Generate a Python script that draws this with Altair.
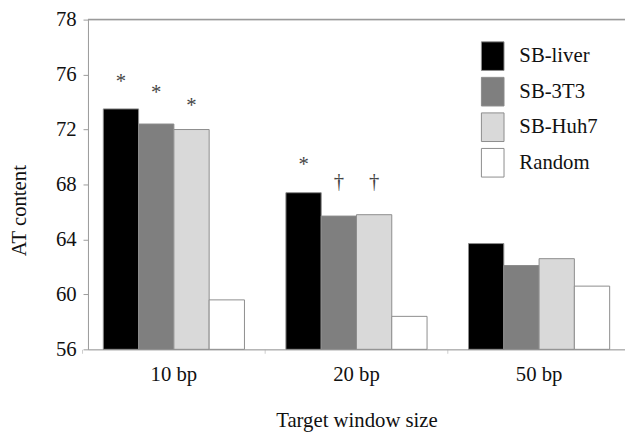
import altair as alt
import pandas as pd

groups = ["10 bp", "20 bp", "50 bp"]
series = ["SB-liver", "SB-3T3", "SB-Huh7", "Random"]
liver = [73.5, 67.4, 63.7]
t3t3 = [72.4, 65.7, 62.1]
huh7 = [72.0, 65.8, 62.6]
random_ = [59.6, 58.4, 60.6]
colors = ["#000000", "#7f7f7f", "#d9d9d9", "#ffffff"]

mark_groups = ["10 bp", "10 bp", "10 bp", "20 bp", "20 bp", "20 bp"]
mark_series = ["SB-liver", "SB-3T3", "SB-Huh7", "SB-liver", "SB-3T3", "SB-Huh7"]
mark_symbols = ["*", "*", "*", "*", "†", "†"]
mark_levels = [75.75, 74.95, 74.0, 69.7, 68.2, 68.2]

rows = []
for s, vals in zip(series, [liver, t3t3, huh7, random_]):
    for g, v in zip(groups, vals):
        rows.append({"group": g, "series": s, "value": v})
df = pd.DataFrame(rows)

mdf = pd.DataFrame({"group": mark_groups, "series": mark_series,
                    "sym": mark_symbols, "level": mark_levels})

FONT = "Liberation Serif, Times New Roman, DejaVu Serif, serif"

x_enc = alt.X("group:N", sort=groups, title="Target window size",
              scale=alt.Scale(paddingInner=0.227, paddingOuter=0.084),
              axis=alt.Axis(labelAngle=0, labelFontSize=21, labelFont=FONT,
                            labelColor="#111111", labelBaseline="alphabetic",
                            labelPadding=28, tickSize=4, tickColor="#cccccc",
                            bandPosition=-0.147,
                            domainColor="#9a9a9a", titleFontSize=21,
                            titleFont=FONT, titleFontWeight="normal",
                            titleColor="#111111", titleBaseline="alphabetic",
                            titleY=78))
xoff = alt.XOffset("series:N", sort=series, scale=alt.Scale(domain=series))
y_scale = alt.Scale(domain=[56, 80], nice=False, zero=False)

bars = alt.Chart(df).mark_bar(stroke="#8c8c8c", strokeWidth=1).encode(
    x=x_enc,
    xOffset=xoff,
    y=alt.Y("value:Q", scale=y_scale, title="AT content",
            axis=alt.Axis(values=[56, 60, 64, 68, 72, 76, 80], grid=False,
                          labelExpr="datum.value == 80 ? '78' : datum.label",
                          labelFontSize=21, labelFont=FONT, labelColor="#111111",
                          labelPadding=7, tickSize=5, tickColor="#9a9a9a",
                          domainColor="#9a9a9a", titleFontSize=21, titleFont=FONT,
                          titleFontWeight="normal", titleColor="#111111",
                          titleAngle=270, titleX=-69, titleY=193,
                          titleBaseline="middle", titleAlign="center")),
    y2=alt.datum(56),
    fill=alt.Fill("series:N", sort=series,
                  scale=alt.Scale(domain=series, range=colors),
                  legend=alt.Legend(title=None, orient="none", legendX=395,
                                    legendY=22, padding=0,
                                    symbolType="M-0.79,-1L0.79,-1L0.79,1L-0.79,1Z",
                                    symbolSize=841, symbolStrokeColor="#8c8c8c",
                                    symbolStrokeWidth=1, labelFont=FONT,
                                    labelFontSize=21, labelColor="#111111",
                                    labelOffset=12, rowPadding=2)),
)

top_line = alt.Chart(pd.DataFrame({"v": [80]})).mark_rule(
    color="#9a9a9a", strokeWidth=1.5).encode(y=alt.Y("v:Q", scale=y_scale))

stars = alt.Chart(mdf).transform_filter(alt.datum.sym == "*").mark_text(
    font=FONT, fontSize=21, color="#444444", baseline="alphabetic", dy=10
).encode(x=alt.X("group:N", sort=groups), xOffset=xoff,
         y=alt.Y("level:Q", scale=y_scale), text="sym:N")

daggers = alt.Chart(mdf).transform_filter(alt.datum.sym == "†").mark_text(
    font=FONT, fontSize=21, color="#444444", baseline="alphabetic", dy=6
).encode(x=alt.X("group:N", sort=groups), xOffset=xoff,
         y=alt.Y("level:Q", scale=y_scale), text="sym:N")

chart = alt.layer(bars, top_line, stars, daggers).properties(
    width=544, height=334,
    autosize=alt.AutoSizeParams(type="none"),
    padding={"left": 81, "top": 9, "right": 0, "bottom": 83},
).configure_view(stroke=None).configure(background="white")

chart.save("out.html", embed_options={"renderer": "svg", "actions": False})
